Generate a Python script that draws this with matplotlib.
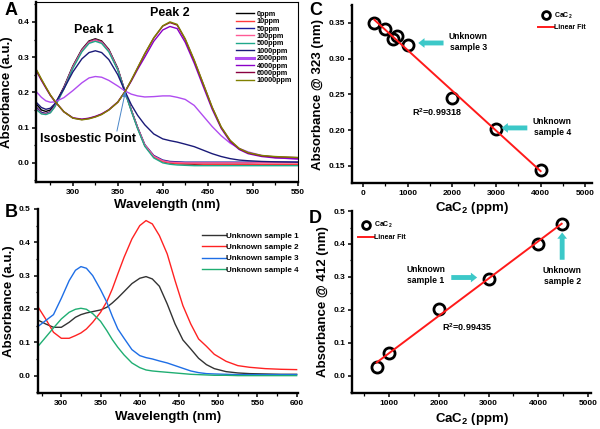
import numpy as np
import matplotlib
matplotlib.use("Agg")
import matplotlib.pyplot as plt
from matplotlib.ticker import MultipleLocator

plt.rcParams.update({
    'font.family': 'sans-serif',
    'font.sans-serif': ['Liberation Sans', 'DejaVu Sans'],
    'font.weight': 'bold',
    'axes.labelweight': 'bold',
    'mathtext.fontset': 'custom',
    'mathtext.rm': 'Liberation Sans:bold',
    'mathtext.it': 'Liberation Sans:bold',
    'mathtext.default': 'rm',
})

# ---------------- panel A: spectra vs CaC2 concentration ----------------
wl_a = [260, 265, 270, 275, 280, 290, 300, 310, 318, 325, 332, 340, 350, 358, 365, 372,
        380, 390, 400, 408, 416, 425, 435, 445, 455, 465, 475, 485, 495, 510, 525, 550]
conc_labels = ['0ppm', '10ppm', '50ppm', '100ppm', '500ppm', '1000ppm',
               '2000ppm', '4000ppm', '6000ppm', '10000ppm']
conc_colors = ['#000000', '#ff3b3b', '#1c1c9c', '#ff5a96', '#1fa88a', '#1a1a78',
               '#b04cf0', '#8a00c8', '#8a0040', '#808000']
abs_0 = [0.165, 0.150, 0.146, 0.150, 0.165, 0.215, 0.275, 0.322, 0.346, 0.352, 0.346, 0.322,
         0.268, 0.202, 0.150, 0.100, 0.050, 0.018, 0.004, 0.000, -0.002, -0.003, -0.004,
         -0.004, -0.004, -0.004, -0.004, -0.004, -0.004, -0.005, -0.005, -0.005]
abs_10 = [0.156, 0.143, 0.140, 0.145, 0.162, 0.213, 0.273, 0.320, 0.344, 0.350, 0.344, 0.320,
          0.266, 0.202, 0.149, 0.099, 0.049, 0.017, 0.004, 0.000, -0.002, -0.003, -0.003,
          -0.004, -0.004, -0.004, -0.004, -0.004, -0.004, -0.004, -0.004, -0.004]
abs_50 = [0.156, 0.143, 0.140, 0.145, 0.162, 0.213, 0.272, 0.319, 0.343, 0.349, 0.343, 0.319,
          0.266, 0.202, 0.150, 0.101, 0.052, 0.021, 0.008, 0.004, 0.003, 0.002, 0.002,
          0.002, 0.002, 0.002, 0.002, 0.002, 0.002, 0.002, 0.002, 0.002]
abs_100 = [0.152, 0.140, 0.138, 0.143, 0.160, 0.211, 0.271, 0.318, 0.342, 0.348, 0.342, 0.318,
           0.265, 0.201, 0.149, 0.100, 0.051, 0.019, 0.006, 0.002, 0.001, 0.000, 0.000,
           0.000, 0.000, 0.000, 0.000, 0.000, 0.000, 0.000, 0.000, 0.000]
abs_500 = [0.150, 0.139, 0.137, 0.142, 0.159, 0.209, 0.268, 0.315, 0.339, 0.345, 0.339, 0.315,
           0.263, 0.201, 0.147, 0.097, 0.047, 0.014, 0.000, -0.004, -0.006, -0.007, -0.008,
           -0.008, -0.008, -0.008, -0.008, -0.008, -0.008, -0.008, -0.008, -0.008]
abs_1000 = [0.170, 0.157, 0.152, 0.155, 0.168, 0.210, 0.258, 0.295, 0.313, 0.318, 0.313, 0.293,
            0.250, 0.203, 0.165, 0.135, 0.108, 0.082, 0.068, 0.063, 0.059, 0.053, 0.046,
            0.036, 0.026, 0.018, 0.012, 0.008, 0.006, 0.004, 0.003, 0.002]
abs_2000 = [0.200, 0.186, 0.176, 0.172, 0.173, 0.185, 0.205, 0.227, 0.241, 0.245, 0.243, 0.234,
            0.218, 0.204, 0.195, 0.190, 0.187, 0.188, 0.190, 0.190, 0.186, 0.180, 0.163,
            0.133, 0.103, 0.077, 0.056, 0.041, 0.031, 0.021, 0.015, 0.010]
abs_4000 = [0.258, 0.234, 0.212, 0.191, 0.174, 0.145, 0.128, 0.124, 0.127, 0.132, 0.139, 0.151,
            0.173, 0.202, 0.232, 0.265, 0.300, 0.345, 0.377, 0.387, 0.381, 0.342, 0.283,
            0.217, 0.152, 0.098, 0.060, 0.038, 0.026, 0.018, 0.014, 0.012]
abs_6000 = [0.260, 0.236, 0.214, 0.192, 0.175, 0.145, 0.127, 0.123, 0.126, 0.131, 0.138, 0.150,
            0.172, 0.202, 0.234, 0.269, 0.309, 0.354, 0.388, 0.398, 0.391, 0.350, 0.290,
            0.224, 0.157, 0.101, 0.063, 0.040, 0.028, 0.020, 0.017, 0.015]
abs_10000 = [0.262, 0.238, 0.215, 0.193, 0.175, 0.145, 0.127, 0.122, 0.125, 0.130, 0.137, 0.150,
             0.172, 0.202, 0.235, 0.270, 0.310, 0.355, 0.389, 0.400, 0.393, 0.352, 0.292,
             0.225, 0.158, 0.102, 0.064, 0.041, 0.029, 0.021, 0.018, 0.015]
spectra_a = [abs_0, abs_10, abs_50, abs_100, abs_500, abs_1000, abs_2000, abs_4000, abs_6000, abs_10000]

# ---------------- panel B: unknown samples ----------------
wl_b = [270, 280, 290, 300, 310, 318, 325, 332, 340, 350, 358, 365, 372, 380, 390, 400,
        408, 416, 425, 435, 445, 455, 465, 475, 485, 495, 510, 525, 540, 560, 580, 600]
unk_labels = ['Unknown sample 1', 'Unknown sample 2', 'Unknown sample 3', 'Unknown sample 4']
unk_colors = ['#333333', '#ff2222', '#1e6ee6', '#1fae72']
unk_1 = [0.167, 0.155, 0.145, 0.145, 0.160, 0.175, 0.183, 0.188, 0.192, 0.197, 0.205, 0.218,
         0.233, 0.252, 0.276, 0.292, 0.297, 0.290, 0.268, 0.215, 0.155, 0.107, 0.080, 0.052,
         0.033, 0.021, 0.012, 0.008, 0.006, 0.005, 0.004, 0.004]
unk_2 = [0.207, 0.170, 0.130, 0.112, 0.112, 0.120, 0.128, 0.140, 0.160, 0.190, 0.222, 0.260,
         0.305, 0.355, 0.410, 0.450, 0.465, 0.455, 0.420, 0.365, 0.285, 0.210, 0.155, 0.110,
         0.088, 0.064, 0.043, 0.030, 0.025, 0.021, 0.019, 0.018]
unk_3 = [0.147, 0.165, 0.183, 0.232, 0.285, 0.316, 0.327, 0.322, 0.300, 0.258, 0.220, 0.178,
         0.140, 0.112, 0.078, 0.060, 0.054, 0.050, 0.044, 0.038, 0.030, 0.022, 0.014, 0.009,
         0.006, 0.005, 0.004, 0.003, 0.003, 0.003, 0.003, 0.003]
unk_4 = [0.087, 0.115, 0.143, 0.170, 0.190, 0.199, 0.202, 0.199, 0.186, 0.163, 0.135, 0.108,
         0.085, 0.062, 0.038, 0.024, 0.017, 0.014, 0.012, 0.010, 0.008, 0.006, 0.004, 0.003,
         0.002, 0.001, 0.001, 0.000, 0.000, 0.000, 0.000, 0.000]
spectra_b = [unk_1, unk_2, unk_3, unk_4]

# ---------------- panels C/D: calibration ----------------
conc_c = [250, 500, 680, 750, 1000, 2000, 3000, 4000]
abs323 = [0.350, 0.342, 0.327, 0.332, 0.319, 0.245, 0.201, 0.144]
conc_d = [750, 1000, 2000, 3000, 4000, 4470]
abs412 = [0.027, 0.068, 0.203, 0.294, 0.400, 0.462]

fig = plt.figure(figsize=(6.0, 4.29), dpi=100)
axA = fig.add_axes([0.060, 0.576, 0.436, 0.419])
axB = fig.add_axes([0.063, 0.084, 0.434, 0.429])
axC = fig.add_axes([0.587, 0.573, 0.399, 0.415])
axD = fig.add_axes([0.587, 0.084, 0.398, 0.424])
for ax in (axB, axD):
    ax.patch.set_visible(False)

tickfont = 6
labfont = 9.5
cyan = '#3cc8c8'


def style(ax, box=False):
    for s in ['left', 'bottom']:
        ax.spines[s].set_linewidth(1.7)
    for s in ['top', 'right']:
        ax.spines[s].set_visible(box)
        ax.spines[s].set_linewidth(0.8)
    ax.tick_params(which='major', direction='out', length=3, width=1.1, labelsize=tickfont, pad=2)
    ax.tick_params(which='minor', direction='out', length=1.8, width=0.9)
    if box:
        ax.tick_params(which='both', top=False, right=False)


# A
for y, lab, c in zip(spectra_a, conc_labels, conc_colors):
    axA.plot(wl_a, y, color=c, lw=1.0, label=lab)
axA.set_xlim(259, 550)
axA.set_ylim(-0.054, 0.456)
axA.xaxis.set_major_locator(MultipleLocator(50))
axA.xaxis.set_minor_locator(MultipleLocator(25))
axA.yaxis.set_major_locator(MultipleLocator(0.1))
axA.yaxis.set_minor_locator(MultipleLocator(0.05))
style(axA, box=True)
axA.set_xlabel('Wavelength (nm)', fontsize=labfont, labelpad=2)
axA.set_ylabel('Absorbance (a.u.)', fontsize=labfont, labelpad=3)
axA.text(323, 0.377, 'Peak 1', fontsize=9, ha='center', va='center')
axA.text(408, 0.425, 'Peak 2', fontsize=9, ha='center', va='center')
axA.text(317, 0.068, 'Isosbestic Point', fontsize=9, ha='center', va='center')
axA.annotate('', xy=(358.5, 0.203), xytext=(349, 0.090),
             arrowprops=dict(arrowstyle='-|>,head_length=0.3,head_width=0.12', color='#4a86c8',
                             lw=0.7, shrinkA=0, shrinkB=0))
legA = axA.legend(loc='upper right', bbox_to_anchor=(1.0, 0.985), frameon=False,
                  prop={'weight': 'bold', 'size': 5.2}, handlelength=2.6, labelspacing=0.05,
                  handletextpad=0.3, borderaxespad=0.4)
for h in legA.get_lines():
    if h.get_label() == '2000ppm':
        h.set_linewidth(2.2)

# B
for y, lab, c in zip(spectra_b, unk_labels, unk_colors):
    axB.plot(wl_b, y, color=c, lw=1.0, label=lab)
axB.set_xlim(270, 602)
axB.set_ylim(-0.052, 0.5)
axB.xaxis.set_major_locator(MultipleLocator(50))
axB.xaxis.set_minor_locator(MultipleLocator(25))
axB.yaxis.set_major_locator(MultipleLocator(0.1))
axB.yaxis.set_minor_locator(MultipleLocator(0.05))
style(axB)
axB.set_xlabel('Wavelength (nm)', fontsize=labfont, labelpad=3)
axB.set_ylabel('Absorbance (a.u.)', fontsize=labfont, labelpad=3)
axB.legend(loc='upper right', bbox_to_anchor=(1.02, 0.9), frameon=False,
           prop={'weight': 'bold', 'size': 5.8}, handlelength=3.0, labelspacing=0.45,
           handletextpad=0.0, borderaxespad=0.2)

# C
kc = np.polyfit(conc_c, abs323, 1)
xc = np.array([min(conc_c), max(conc_c)])
axC.plot(conc_c, abs323, 'o', ms=8, mfc='none', mec='black', mew=2.0, label='CaC$_2$')
axC.plot(xc, np.polyval(kc, xc), color='#ff1a1a', lw=1.4, label='Linear Fit')
axC.set_xlim(-250, 5150)
axC.set_ylim(0.1256, 0.375)
axC.xaxis.set_major_locator(MultipleLocator(1000))
axC.xaxis.set_minor_locator(MultipleLocator(500))
axC.yaxis.set_major_locator(MultipleLocator(0.05))
axC.yaxis.set_minor_locator(MultipleLocator(0.025))
style(axC)
axC.set_xlabel('CaC$_2$ (ppm)', fontsize=labfont, labelpad=2)
axC.set_ylabel('Absorbance @ 323 (nm)', fontsize=labfont, labelpad=3)
axC.text(1655, 0.225, 'R$^2$=0.99318', fontsize=6.5, ha='center', va='center')
axC.text(2370, 0.323, 'Unknown\nsample 3', fontsize=6.2, ha='center', va='center', linespacing=1.3)
axC.text(4260, 0.204, 'Unknown\nsample 4', fontsize=6.2, ha='center', va='center', linespacing=1.3)
arr = dict(arrowstyle='simple,head_length=0.45,head_width=0.7,tail_width=0.35',
           color=cyan, lw=0, shrinkA=0, shrinkB=0)
axC.annotate('', xy=(1240, 0.322), xytext=(1810, 0.322), arrowprops=arr)
axC.annotate('', xy=(3120, 0.203), xytext=(3700, 0.203), arrowprops=arr)
axC.legend(loc='upper right', bbox_to_anchor=(1.0, 1.0), frameon=False,
           prop={'weight': 'bold', 'size': 5}, handlelength=2.3, labelspacing=0.5,
           handletextpad=0.1, borderaxespad=0.4, markerscale=0.7)

# D
kd = np.polyfit(conc_d, abs412, 1)
xd = np.array([min(conc_d), max(conc_d)])
axD.plot(conc_d, abs412, 'o', ms=8, mfc='none', mec='black', mew=2.0, label='CaC$_2$')
axD.plot(xd, np.polyval(kd, xd), color='#ff1a1a', lw=1.4, label='Linear Fit')
axD.set_xlim(257, 5060)
axD.set_ylim(-0.053, 0.5)
axD.xaxis.set_major_locator(MultipleLocator(1000))
axD.xaxis.set_minor_locator(MultipleLocator(500))
axD.yaxis.set_major_locator(MultipleLocator(0.1))
axD.yaxis.set_minor_locator(MultipleLocator(0.05))
style(axD)
axD.set_xlabel('CaC$_2$ (ppm)', fontsize=labfont, labelpad=3)
axD.set_ylabel('Absorbance @ 412 (nm)', fontsize=labfont, labelpad=3)
axD.text(2560, 0.147, 'R$^2$=0.99435', fontsize=6.5, ha='center', va='center')
axD.text(1740, 0.305, 'Unknown\nsample 1', fontsize=6.2, ha='center', va='center', linespacing=1.3)
axD.text(4480, 0.303, 'Unknown\nsample 2', fontsize=6.2, ha='center', va='center', linespacing=1.3)
axD.annotate('', xy=(2770, 0.298), xytext=(2250, 0.298), arrowprops=arr)
axD.annotate('', xy=(4480, 0.435), xytext=(4480, 0.352), arrowprops=arr)
axD.legend(loc='upper left', bbox_to_anchor=(0.0, 0.98), frameon=False,
           prop={'weight': 'bold', 'size': 5}, handlelength=2.3, labelspacing=0.5,
           handletextpad=0.1, borderaxespad=0.4, markerscale=0.7)

# panel letters
for x, y, s in [(0.008, 0.975, 'A'), (0.008, 0.505, 'B'), (0.515, 0.975, 'C'), (0.515, 0.49, 'D')]:
    fig.text(x, y, s, fontsize=13, fontweight='bold', va='center')

plt.savefig('out.png', dpi=100)
